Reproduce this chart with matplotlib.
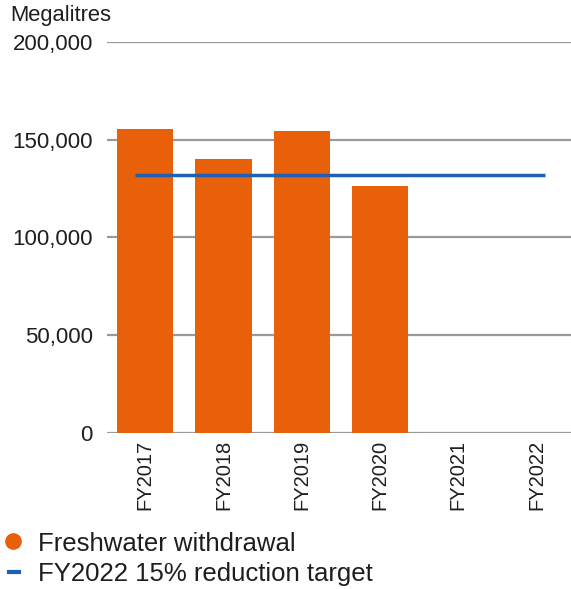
import matplotlib
matplotlib.use("Agg")
import matplotlib.pyplot as plt
from matplotlib.lines import Line2D

plt.rcParams['font.family'] = ['Liberation Sans', 'DejaVu Sans']

categories = ["FY2017", "FY2018", "FY2019", "FY2020", "FY2021", "FY2022"]
withdrawal = [155300, 140300, 154600, 126100, None, None]
target = 132100
yticks = [0, 50000, 100000, 150000, 200000]
ytick_labels = ["0", "50,000", "100,000", "150,000", "200,000"]

ORANGE = "#E8600A"
BLUE = "#1F5FB4"
GRID = "#9a9a9a"
TEXT = "#1e1e1e"

fig = plt.figure(figsize=(5.71, 5.89), dpi=100)
ax = fig.add_axes([0.187, 0.2654, 0.813, 0.6633])

xs = list(range(len(categories)))
bx = [x for x, v in zip(xs, withdrawal) if v is not None]
bv = [v for v in withdrawal if v is not None]
ax.bar(bx, bv, width=0.72, color=ORANGE, zorder=2)
ax.hlines(target, -0.13, 5.11, color=BLUE, linewidth=2.5, zorder=3)

ax.set_ylim(0, 200000)
ax.set_xlim(-0.49, 5.44)
ax.set_yticks(yticks)
ax.set_yticklabels(ytick_labels, fontsize=16, color=TEXT)
ax.yaxis.grid(True, color=GRID, linewidth=1.6, zorder=1)
ax.set_axisbelow(True)
ax.tick_params(axis='y', length=0, pad=10)
ax.set_xticks(xs)
ax.set_xticklabels(categories, rotation=90, fontsize=14.5, color=TEXT, va='top')
ax.tick_params(axis='x', length=0, pad=5)
for s in ax.spines.values():
    s.set_visible(False)

fig.text(10/571, 1 - 16/589, "Megalitres", fontsize=15.8, color=TEXT, va='center', ha='left')

# legend
fig.add_artist(Line2D([13/571], [1 - 541/589], marker='o', markersize=11,
                      color=ORANGE, linestyle='none', transform=fig.transFigure))
fig.add_artist(Line2D([9/571, 19/571], [1 - 572/589, 1 - 572/589], color=BLUE,
                      linewidth=3, transform=fig.transFigure))
fig.text(38/571, 1 - 544/589, "Freshwater withdrawal", fontsize=18.5, color=TEXT,
         va='center', ha='left')
fig.text(38/571, 1 - 574/589, "FY2022 15% reduction target", fontsize=18.5, color=TEXT,
         va='center', ha='left')

fig.savefig("out.png", dpi=100)
